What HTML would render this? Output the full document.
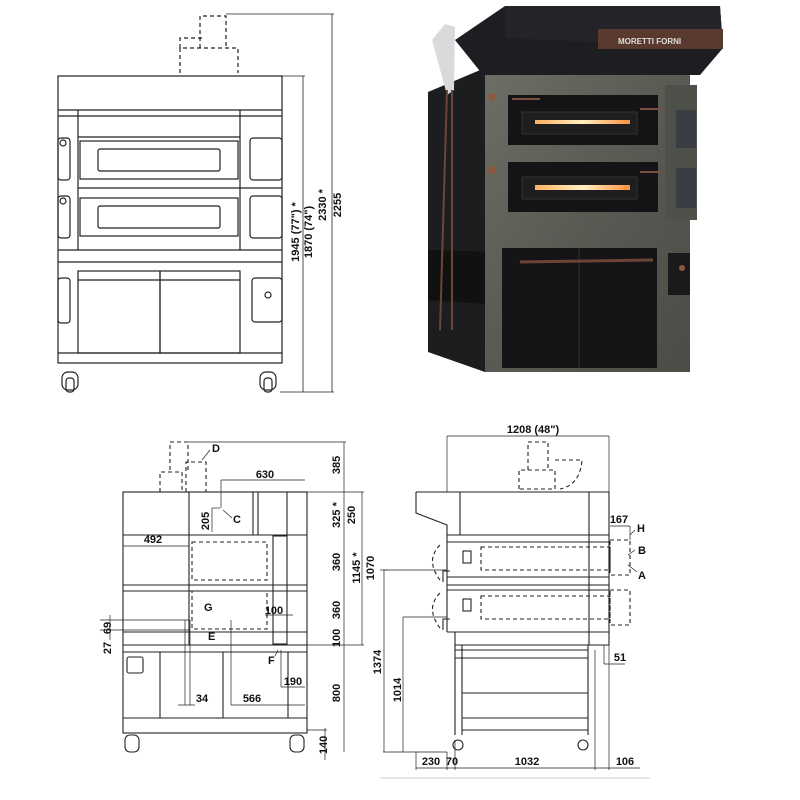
<!DOCTYPE html>
<html><head><style>
html,body{margin:0;padding:0;background:#fff;}
svg{display:block;}
text{font-family:"Liberation Sans",Arial,sans-serif;font-weight:bold;font-size:11px;fill:#111;}
</style></head><body>
<svg width="800" height="800" viewBox="0 0 800 800" xmlns="http://www.w3.org/2000/svg">
<defs>
<linearGradient id="conc" x1="0" y1="0" x2="1" y2="1">
<stop offset="0" stop-color="#6d6f66"/><stop offset="0.5" stop-color="#585a53"/><stop offset="1" stop-color="#4a4c46"/>
</linearGradient>
<linearGradient id="glow" x1="0" x2="1"><stop offset="0" stop-color="#ffb060"/><stop offset="0.5" stop-color="#fff0c0"/><stop offset="1" stop-color="#ff9040"/></linearGradient>
</defs>

<!-- ===== TOP LEFT DRAWING ===== -->
<g fill="none" stroke="#222" stroke-width="1.2">
<rect x="58" y="76" width="224" height="287"/>
<line x1="58" y1="110" x2="282" y2="110"/>
<line x1="58" y1="116" x2="282" y2="116"/>
<line x1="78" y1="110" x2="78" y2="250"/>
<line x1="240" y1="110" x2="240" y2="250"/>
<line x1="78" y1="137" x2="240" y2="137"/>
<rect x="80" y="141" width="158" height="38"/>
<rect x="98" y="149" width="122" height="22" rx="2"/>
<line x1="78" y1="188" x2="282" y2="188"/>
<rect x="80" y="198" width="158" height="38"/>
<rect x="98" y="206" width="122" height="22" rx="2"/>
<line x1="58" y1="250" x2="282" y2="250"/>
<line x1="58" y1="262" x2="282" y2="262"/>
<rect x="58" y="138" width="12" height="42" rx="3"/>
<rect x="58" y="196" width="12" height="42" rx="3"/>
<rect x="250" y="138" width="32" height="42" rx="3"/>
<rect x="250" y="196" width="32" height="42" rx="3"/>
<rect x="78" y="271" width="82" height="82"/>
<rect x="160" y="271" width="80" height="82"/>
<line x1="78" y1="280" x2="240" y2="280"/>
<rect x="58" y="278" width="12" height="45" rx="3"/>
<rect x="252" y="278" width="30" height="44" rx="3"/>
<circle cx="268" cy="295" r="3"/>
<circle cx="63" cy="143" r="3"/>
<circle cx="63" cy="201" r="3"/>
<line x1="58" y1="353" x2="282" y2="353"/>
<rect x="62" y="372" width="16" height="18" rx="6"/>
<rect x="260" y="372" width="16" height="18" rx="6"/>
<rect x="66" y="378" width="8" height="14" rx="3"/>
<rect x="264" y="378" width="8" height="14" rx="3"/>
<g stroke-dasharray="4 3">
<path d="M180 73 V48 H238 V73"/>
<path d="M200 48 V16 H226 V48"/>
<path d="M180 48 V38 H202"/>
</g>
<g stroke-width="0.8">
<line x1="282" y1="76" x2="305" y2="76"/>
<line x1="303" y1="76" x2="303" y2="392"/>
<line x1="226" y1="14" x2="334" y2="14"/>
<line x1="332" y1="14" x2="332" y2="392"/>
<line x1="280" y1="392" x2="334" y2="392"/>
</g>
</g>
<text transform="translate(299,232) rotate(-90)" text-anchor="middle">1945 (77") *</text>
<text transform="translate(312,232) rotate(-90)" text-anchor="middle">1870 (74")</text>
<text transform="translate(326,205) rotate(-90)" text-anchor="middle">2330 *</text>
<text transform="translate(341,205) rotate(-90)" text-anchor="middle">2255</text>

<!-- ===== PHOTO ===== -->
<polygon points="428,92 485,68 485,372 428,352" fill="#1c1d1f"/>
<polygon points="428,250 500,252 500,305 428,300" fill="#111"/>
<polygon points="485,68 690,68 690,372 485,372" fill="url(#conc)"/>
<polygon points="455,40 505,6 720,6 723,48 700,75 483,75" fill="#1d1e21"/>
<polygon points="505,6 720,6 723,48 505,38" fill="#222428"/>
<rect x="598" y="29" width="125" height="20" fill="#5a3a2e"/>
<text x="618" y="44" style="font-size:8px;fill:#ddd">MORETTI FORNI</text>
<rect x="508" y="95" width="150" height="50" fill="#141416"/>
<rect x="522" y="112" width="115" height="22" fill="#1e1e20" stroke="#333"/>
<rect x="535" y="120" width="95" height="4" fill="url(#glow)"/>
<rect x="508" y="162" width="150" height="50" fill="#141416"/>
<rect x="522" y="177" width="115" height="22" fill="#1e1e20" stroke="#333"/>
<rect x="535" y="185" width="95" height="5" fill="url(#glow)"/>
<line x1="512" y1="99" x2="540" y2="99" stroke="#7a5040" stroke-width="2"/>
<line x1="640" y1="109" x2="662" y2="109" stroke="#7a5040" stroke-width="2"/>
<line x1="640" y1="172" x2="662" y2="172" stroke="#7a5040" stroke-width="2"/>
<rect x="665" y="85" width="32" height="135" fill="#4e504a"/>
<rect x="676" y="110" width="20" height="38" fill="#3a3d42"/>
<rect x="676" y="168" width="20" height="40" fill="#3a3d42"/>
<rect x="502" y="248" width="155" height="120" fill="#151517"/>
<line x1="579" y1="248" x2="579" y2="368" stroke="#333"/>
<line x1="520" y1="262" x2="653" y2="260" stroke="#6b4535" stroke-width="3"/>
<rect x="668" y="253" width="22" height="42" fill="#1a1a1c"/>
<circle cx="682" cy="268" r="3" fill="#8a5a40"/>
<polygon points="432,40 445,24 455,27 454,90 447,95" fill="#d8dadc"/>
<line x1="447" y1="90" x2="440" y2="330" stroke="#6b4535" stroke-width="2"/>
<line x1="452" y1="90" x2="452" y2="330" stroke="#6b4535" stroke-width="2"/>
<circle cx="492" cy="97" r="4" fill="#8a5a40"/>
<circle cx="492" cy="170" r="4" fill="#8a5a40"/>

<!-- ===== BOTTOM LEFT DRAWING ===== -->
<g fill="none" stroke="#222" stroke-width="1.1">
<rect x="123" y="492" width="184" height="241"/>
<line x1="123" y1="535" x2="307" y2="535"/>
<line x1="123" y1="585" x2="307" y2="585"/>
<line x1="123" y1="591" x2="307" y2="591"/>
<line x1="123" y1="632" x2="307" y2="632"/>
<line x1="123" y1="645" x2="307" y2="645"/>
<line x1="123" y1="652" x2="307" y2="652"/>
<line x1="123" y1="718" x2="307" y2="718"/>
<line x1="189" y1="492" x2="189" y2="645"/>
<line x1="253" y1="492" x2="253" y2="535"/>
<line x1="258" y1="492" x2="258" y2="535"/>
<line x1="287" y1="492" x2="287" y2="535"/>
<rect x="273" y="536" width="14" height="108"/>
<line x1="160" y1="652" x2="160" y2="718"/>
<line x1="223" y1="652" x2="223" y2="718"/>
<line x1="288" y1="652" x2="288" y2="718"/>
<rect x="127" y="657" width="16" height="16" rx="2"/>
<rect x="125" y="735" width="14" height="17" rx="5"/>
<rect x="290" y="735" width="14" height="17" rx="5"/>
<g stroke-dasharray="4 3">
<rect x="192" y="542" width="75" height="38"/>
<rect x="192" y="591" width="75" height="38"/>
<path d="M160 492 V472 H182 V492"/>
<path d="M170 470 V442 H188 V470"/>
<path d="M186 492 V462 H206 V492"/>
</g>
<g stroke-width="0.7">
<line x1="188" y1="442" x2="346" y2="442"/>
<line x1="344" y1="442" x2="344" y2="752"/>
<line x1="307" y1="492" x2="364" y2="492"/>
<line x1="362" y1="492" x2="362" y2="645"/>
<line x1="307" y1="645" x2="364" y2="645"/>
<line x1="380" y1="570" x2="388" y2="570"/>
<line x1="384" y1="570" x2="384" y2="752"/>
<line x1="221" y1="480" x2="305" y2="480"/>
<line x1="221" y1="480" x2="221" y2="508"/>
<line x1="123" y1="546" x2="189" y2="546"/>
<line x1="212" y1="508" x2="212" y2="532"/>
<line x1="212" y1="508" x2="220" y2="508"/>
<line x1="100" y1="620" x2="190" y2="620"/>
<line x1="100" y1="630" x2="190" y2="630"/>
<line x1="110" y1="615" x2="110" y2="640"/>
<line x1="185" y1="620" x2="185" y2="705"/>
<line x1="190" y1="620" x2="190" y2="705"/>
<line x1="178" y1="705" x2="195" y2="705"/>
<line x1="231" y1="620" x2="231" y2="705"/>
<line x1="231" y1="705" x2="305" y2="705"/>
<line x1="281" y1="650" x2="281" y2="687"/>
<line x1="281" y1="687" x2="305" y2="687"/>
<line x1="265" y1="615" x2="293" y2="615"/>
<line x1="307" y1="730" x2="327" y2="730"/>
<line x1="325" y1="728" x2="325" y2="760"/>
<line x1="210" y1="450" x2="202" y2="460"/>
<line x1="223" y1="510" x2="232" y2="518"/>
<line x1="278" y1="650" x2="275" y2="656"/>
</g>
</g>
<text x="212" y="452">D</text>
<text x="265" y="478" text-anchor="middle">630</text>
<text x="233" y="523">C</text>
<text transform="translate(209,521) rotate(-90)" text-anchor="middle">205</text>
<text x="153" y="543" text-anchor="middle">492</text>
<text x="204" y="611">G</text>
<text x="208" y="640">E</text>
<text x="274" y="614" text-anchor="middle">100</text>
<text x="268" y="664">F</text>
<text transform="translate(111,628) rotate(-90)" text-anchor="middle">69</text>
<text transform="translate(111,648) rotate(-90)" text-anchor="middle">27</text>
<text x="202" y="702" text-anchor="middle">34</text>
<text x="293" y="685" text-anchor="middle">190</text>
<text x="252" y="702" text-anchor="middle">566</text>
<text transform="translate(340,465) rotate(-90)" text-anchor="middle">385</text>
<text transform="translate(340,515) rotate(-90)" text-anchor="middle">325 *</text>
<text transform="translate(355,515) rotate(-90)" text-anchor="middle">250</text>
<text transform="translate(340,562) rotate(-90)" text-anchor="middle">360</text>
<text transform="translate(340,610) rotate(-90)" text-anchor="middle">360</text>
<text transform="translate(340,638) rotate(-90)" text-anchor="middle">100</text>
<text transform="translate(360,568) rotate(-90)" text-anchor="middle">1145 *</text>
<text transform="translate(374,568) rotate(-90)" text-anchor="middle">1070</text>
<text transform="translate(340,693) rotate(-90)" text-anchor="middle">800</text>
<text transform="translate(327,745) rotate(-90)" text-anchor="middle">140</text>

<!-- ===== BOTTOM RIGHT DRAWING ===== -->
<g fill="none" stroke="#222" stroke-width="1.1">
<path d="M416 492 H609 V645"/>
<path d="M416 492 V513 L447 525 V535"/>
<line x1="447" y1="535" x2="609" y2="535"/>
<line x1="447" y1="535" x2="447" y2="632"/>
<line x1="460" y1="492" x2="460" y2="535"/>
<line x1="589" y1="492" x2="589" y2="645"/>
<line x1="447" y1="542" x2="609" y2="542"/>
<line x1="447" y1="577" x2="609" y2="577"/>
<line x1="447" y1="585" x2="609" y2="585"/>
<line x1="447" y1="590" x2="609" y2="590"/>
<line x1="447" y1="632" x2="609" y2="632"/>
<line x1="455" y1="645" x2="609" y2="645"/>
<line x1="455" y1="632" x2="455" y2="735"/>
<line x1="462" y1="645" x2="462" y2="735"/>
<line x1="588" y1="645" x2="588" y2="735"/>
<line x1="455" y1="650" x2="588" y2="650"/>
<line x1="455" y1="658" x2="588" y2="658"/>
<line x1="462" y1="693" x2="588" y2="693"/>
<line x1="462" y1="718" x2="588" y2="718"/>
<line x1="462" y1="730" x2="588" y2="730"/>
<rect x="463" y="551" width="8" height="12"/>
<rect x="463" y="599" width="8" height="12"/>
<circle cx="458" cy="745" r="5"/>
<circle cx="583" cy="745" r="5"/>
<path d="M450 571 H443 V582" />
<path d="M450 619 H443 V630" />
<g stroke-dasharray="4 3">
<rect x="481" y="547" width="129" height="23"/>
<rect x="481" y="596" width="129" height="23"/>
<path d="M519 489 V470 H555 V489 H519"/>
<path d="M528 470 V442 H548 V470"/>
<path d="M555 460 H582 Q580 485 560 489"/>
<path d="M440 545 Q425 560 440 580"/>
<path d="M440 593 Q425 608 440 628"/>
<rect x="610" y="540" width="20" height="35"/>
<rect x="610" y="590" width="20" height="35"/>
</g>
<g stroke-width="0.7">
<line x1="447" y1="436" x2="609" y2="436"/>
<line x1="447" y1="436" x2="447" y2="492"/>
<line x1="609" y1="436" x2="609" y2="492"/>
<line x1="610" y1="526" x2="630" y2="526"/>
<line x1="630" y1="526" x2="630" y2="540"/>
<line x1="383" y1="570" x2="447" y2="570"/>
<line x1="403" y1="617" x2="447" y2="617"/>
<line x1="403" y1="617" x2="403" y2="752"/>
<line x1="383" y1="752" x2="447" y2="752"/>
<line x1="416" y1="752" x2="416" y2="770"/>
<line x1="447" y1="752" x2="447" y2="770"/>
<line x1="455" y1="740" x2="455" y2="770"/>
<line x1="595" y1="650" x2="595" y2="770"/>
<line x1="609" y1="645" x2="609" y2="770"/>
<line x1="416" y1="768" x2="640" y2="768"/>
<line x1="604" y1="664" x2="625" y2="664"/>
<line x1="604" y1="645" x2="604" y2="664"/>
<line x1="630" y1="535" x2="635" y2="530"/>
<line x1="628" y1="555" x2="635" y2="550"/>
<line x1="628" y1="565" x2="637" y2="572"/>
</g>
</g>
<text x="533" y="433" text-anchor="middle">1208 (48")</text>
<text x="619" y="523" text-anchor="middle">167</text>
<text x="637" y="532">H</text>
<text x="638" y="554">B</text>
<text x="638" y="579">A</text>
<text x="620" y="661" text-anchor="middle">51</text>
<text transform="translate(381,662) rotate(-90)" text-anchor="middle">1374</text>
<text transform="translate(401,690) rotate(-90)" text-anchor="middle">1014</text>
<text x="431" y="765" text-anchor="middle">230</text>
<text x="452" y="765" text-anchor="middle">70</text>
<text x="527" y="765" text-anchor="middle">1032</text>
<text x="625" y="765" text-anchor="middle">106</text>
<line x1="380" y1="778" x2="650" y2="778" stroke="#ccc" stroke-width="1"/>
</svg>
</body></html>
